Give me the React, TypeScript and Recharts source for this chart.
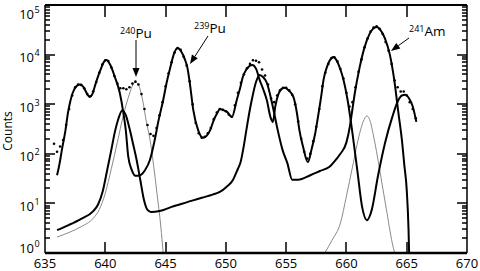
import { ComposedChart, Line, XAxis, YAxis } from 'recharts';

const W = 480;
const H = 271;
// plot box edges in px
const PL = 45;
const PR = 467;
const PT = 5;
const PB = 253;
const FONT = '"Open Sans", "DejaVu Sans", sans-serif';

const xTicks = [635, 640, 645, 650, 655, 660, 665, 670];
const xInnerTicks = [640, 645, 650, 655, 660, 665];
const decades = [1, 10, 100, 1000, 10000, 100000];
const exponents = ['0', '1', '2', '3', '4', '5'];
const minorSteps = [2, 3, 4, 5, 6, 7, 8, 9];

// 239Pu component (thick)
const pu239: [number, number][] = [
  [636.0, 37], [636.2, 62], [636.4, 120], [636.7, 300], [636.9, 660], [637.1, 1150], [637.3, 1700],
  [637.6, 2300], [637.9, 2500], [638.2, 2200], [638.5, 1600], [638.7, 1400], [638.9, 1550],
  [639.2, 2600], [639.6, 4900], [639.9, 7200], [640.1, 7800], [640.4, 6300], [640.8, 3500],
  [641.2, 1700], [641.5, 670], [641.7, 300], [641.9, 90], [642.2, 47], [642.5, 36], [642.9, 37],
  [643.3, 47], [643.7, 75], [644.1, 190], [644.4, 450], [644.8, 1200], [645.1, 2800], [645.4, 5600],
  [645.7, 10500], [646.0, 13600], [646.3, 11500], [646.6, 8000], [646.8, 5600], [647.0, 2800],
  [647.3, 760], [647.7, 300], [648.1, 210], [648.4, 230], [648.7, 300], [649.0, 480], [649.3, 670],
  [649.5, 800], [649.8, 760], [650.1, 700], [650.5, 550], [650.9, 1200], [651.2, 2200], [651.4, 3500],
  [651.7, 5000], [652.0, 6000], [652.2, 6200], [652.5, 5200], [652.8, 3100], [653.1, 2000],
  [653.4, 1200], [653.7, 550], [653.9, 440], [654.1, 900], [654.4, 1700], [654.7, 2100], [654.9, 2150],
  [655.2, 1900], [655.6, 1400], [655.9, 650], [656.1, 300], [656.4, 140], [656.8, 68], [657.1, 120],
  [657.4, 250], [657.6, 480], [657.9, 1400], [658.1, 3100], [658.4, 5800], [658.7, 8200], [658.9, 8900],
  [659.2, 7500], [659.5, 5000], [659.7, 3500], [660.1, 1200], [660.5, 260], [660.9, 47], [661.3, 8.5],
  [661.7, 4.6], [662.1, 7.4], [662.6, 34], [663.2, 165], [663.8, 550], [664.3, 1200], [664.6, 1500],
  [664.9, 1550], [665.2, 1300], [665.5, 900], [665.8, 440],
];

// 241Am component (thick)
const am241: [number, number][] = [
  [636.0, 2.9], [637.0, 3.7], [638.0, 4.9], [639.0, 7.0], [639.4, 9.5], [639.8, 18], [640.1, 40],
  [640.5, 120], [640.8, 280], [641.1, 520], [641.4, 750], [641.7, 600], [642.0, 330], [642.3, 160],
  [642.6, 75], [642.9, 30], [643.2, 12], [643.5, 7.4], [643.8, 6.7], [644.5, 7.0], [645.5, 8.5],
  [646.8, 10.6], [648.0, 13], [648.9, 15], [649.5, 17], [650.0, 21], [650.6, 30], [651.0, 50],
  [651.2, 65], [651.5, 150], [651.7, 300], [652.0, 800], [652.2, 1400], [652.5, 2800], [652.8, 3900],
  [653.1, 3500], [653.4, 2700], [653.9, 880], [654.3, 300], [654.7, 120], [655.1, 65], [655.5, 30],
  [656.0, 30], [657.0, 37], [657.8, 45], [658.6, 55], [659.2, 80], [659.5, 100], [660.0, 170],
  [660.3, 375], [660.5, 800], [660.7, 1700], [661.1, 5600], [661.5, 14000], [661.9, 25600],
  [662.2, 33000], [662.5, 36000], [662.8, 32000], [663.2, 21000], [663.6, 10000], [664.0, 2700],
  [664.3, 700], [664.6, 190], [664.8, 60], [665.0, 19], [665.15, 3], [665.2, 1],
];

// 240Pu component (grey)
const pu240: [number, number][] = [
  [636.0, 2.1], [637.0, 2.6], [638.0, 3.4], [639.0, 5.0], [639.5, 7.5], [640.0, 16], [640.5, 50],
  [641.0, 170], [641.5, 600], [642.0, 1600], [642.3, 2500], [642.5, 2800], [642.8, 2300],
  [643.1, 1200], [643.4, 450], [643.7, 200], [644.0, 60], [644.3, 15], [644.6, 3.5], [644.8, 1],
];

// 661.7 keV component (grey)
const line662: [number, number][] = [
  [658.2, 1], [658.8, 1.8], [659.5, 4], [660.0, 14], [660.5, 54], [661.1, 260], [661.4, 450],
  [661.7, 580], [662.0, 430], [662.2, 260], [662.5, 110], [662.8, 41], [663.3, 8], [663.8, 1.6],
  [664.0, 1],
];

// measured counts (dots)
const measured: [number, number][] = [
  [635.75, 160], [636.0, 110], [636.25, 140], [636.5, 190], [636.75, 380], [637.0, 800],
  [637.25, 1500], [637.5, 2200], [637.75, 2500], [638.0, 2450], [638.25, 2100], [638.5, 1600],
  [638.75, 1450], [639.0, 1800], [639.25, 2800], [639.5, 4300], [639.75, 6300], [640.0, 7700],
  [640.25, 7400], [640.5, 5500], [640.75, 3700], [641.0, 2600], [641.25, 2100], [641.5, 2100],
  [641.75, 2000], [642.0, 2200], [642.25, 2600], [642.5, 2850], [642.75, 2500], [643.0, 1600],
  [643.25, 800], [643.5, 380], [643.75, 250], [644.0, 230], [644.25, 330], [644.5, 600],
  [644.75, 1100], [645.0, 2300], [645.25, 4200], [645.5, 7000], [645.75, 11000], [646.0, 13500],
  [646.25, 12500], [646.5, 9000], [646.75, 6000], [647.0, 2900], [647.25, 1000], [647.5, 420],
  [647.75, 260], [648.0, 210], [648.25, 220], [648.5, 260], [648.75, 330], [649.0, 500],
  [649.25, 680], [649.5, 800], [649.75, 770], [650.0, 720], [650.25, 620], [650.5, 560],
  [650.75, 950], [651.0, 1700], [651.25, 2700], [651.5, 4000], [651.75, 5300], [652.0, 6500],
  [652.25, 7700], [652.5, 7500], [652.75, 7000], [653.0, 5000], [653.25, 3800], [653.5, 2500],
  [653.75, 1300], [654.0, 1100], [654.25, 1500], [654.5, 1900], [654.75, 2150], [655.0, 2150],
  [655.25, 1900], [655.5, 1550], [655.75, 1000], [656.0, 450], [656.25, 200], [656.5, 110],
  [656.75, 80], [657.0, 100], [657.25, 180], [657.5, 350], [657.75, 800], [658.0, 2300],
  [658.25, 4300], [658.5, 6500], [658.75, 8400], [659.0, 8800], [659.25, 7300], [659.5, 5100],
  [659.75, 3300], [660.0, 1700], [660.25, 900], [660.5, 1100], [660.75, 2200], [661.0, 4500],
  [661.25, 8000], [661.5, 14000], [661.75, 21000], [662.0, 29000], [662.25, 35000], [662.5, 37000],
  [662.75, 33000], [663.0, 26000], [663.25, 18000], [663.5, 12000], [663.75, 6500], [664.0, 3000],
  [664.25, 2200], [664.5, 1800], [664.75, 1800], [665.0, 1500], [665.25, 1100], [665.5, 800],
  [665.75, 520],
];

const minorTicks = decades.slice(0, -1).flatMap(d => minorSteps.map(k => k * d));
const pts = (arr: [number, number][]) => arr.map(([x, y]) => ({ x, y }));

// frame tick positions (same linear / log mapping as the plot box)
const xPix = (v: number) => Math.round(PL + ((v - 635) / 35) * (PR - PL));
const yPix = (v: number) => Math.round(PB - (Math.log10(v) / 5) * (PB - PT));

function XTick({ x, payload }: any) {
  return (
    <text x={x} y={268} textAnchor="middle" fontSize={13} fontFamily={FONT} fill="#000">{payload.value}</text>
  );
}

function YTick({ y, payload }: any) {
  const i = decades.indexOf(payload.value);
  if (i < 0) return null;
  let base = y + 7.5;
  if (i === 5) base = 19;
  if (i === 0) base = 253;
  return (
    <text y={base} fontFamily={FONT} fill="#000">
      <tspan x={34} textAnchor="end" fontSize={13}>10</tspan>
      <tspan x={34.5} dy={-6} fontSize={9}>{exponents[i]}</tspan>
    </text>
  );
}

function Arrow({ x1, y1, x2, y2 }: { x1: number; y1: number; x2: number; y2: number }) {
  const dx = x2 - x1;
  const dy = y2 - y1;
  const l = Math.hypot(dx, dy);
  const ux = dx / l, uy = dy / l;
  const hl = 9, hw = 3.5;
  const bx = x2 - ux * hl, by = y2 - uy * hl;
  return (
    <g>
      <line x1={x1} y1={y1} x2={bx} y2={by} stroke="#000" strokeWidth={1} />
      <polygon points={`${x2},${y2} ${bx - uy * hw},${by + ux * hw} ${bx + uy * hw},${by - ux * hw}`} fill="#000" />
    </g>
  );
}

function Label({ x, y, mass, el }: { x: number; y: number; mass: string; el: string }) {
  return (
    <text x={x} y={y} fontFamily={FONT} fill="#000">
      <tspan fontSize={9} dy={-4}>{mass}</tspan>
      <tspan fontSize={13.5} dy={4}>{el}</tspan>
    </text>
  );
}

function Frame() {
  const segs: [number, number, number, number][] = [];
  xInnerTicks.forEach(v => {
    segs.push([xPix(v), PB, xPix(v), PB - 11]);
    segs.push([xPix(v), PT, xPix(v), PT + 12]);
  });
  decades.forEach(v => {
    segs.push([PL, yPix(v), PL + 10, yPix(v)]);
    segs.push([PR - 10, yPix(v), PR, yPix(v)]);
  });
  minorTicks.forEach(v => {
    segs.push([PL, yPix(v), PL + 5, yPix(v)]);
    segs.push([PR - 5, yPix(v), PR, yPix(v)]);
  });
  const d = segs.map(([a, b, c, e]) => `M${a},${b}L${c},${e}`).join('');
  return (
    <g>
      <path d={d} stroke="#000" strokeWidth={1.5} fill="none" />
      <line x1={PL} x2={PR} y1={PT} y2={PT} stroke="#000" strokeWidth={2} />
      <line x1={PR} x2={PR} y1={PT} y2={PB} stroke="#000" strokeWidth={1.5} />
    </g>
  );
}

export default function App() {
  return (
    <div style={{ position: 'fixed', left: 0, top: 0, width: W, height: H, background: '#fff' }}>
      <ComposedChart width={W} height={H} margin={{ top: PT, right: W - PR, bottom: 0, left: 0 }}>
        <XAxis
          dataKey="x" type="number" domain={[635, 670]} ticks={xTicks} interval={0}
          allowDataOverflow height={H - PB} tickLine={false} tick={<XTick />}
          axisLine={{ stroke: '#000', strokeWidth: 2.5 }}
        />
        <YAxis
          dataKey="y" scale="log" domain={[1, 100000]} ticks={decades} interval={0}
          allowDataOverflow width={PL} tickLine={false} tick={<YTick />}
          axisLine={{ stroke: '#000', strokeWidth: 1.5 }}
        />
        <Line data={pts(pu240)} dataKey="y" type="monotone" stroke="#8a8a8a" strokeWidth={1} dot={false} isAnimationActive={false} />
        <Line data={pts(line662)} dataKey="y" type="monotone" stroke="#8a8a8a" strokeWidth={1} dot={false} isAnimationActive={false} />
        <Line data={pts(am241)} dataKey="y" type="monotone" stroke="#000" strokeWidth={2} dot={false} isAnimationActive={false} />
        <Line data={pts(pu239)} dataKey="y" type="monotone" stroke="#000" strokeWidth={2} dot={false} isAnimationActive={false} />
        <Line
          data={pts(measured)} dataKey="y" stroke="none" strokeWidth={0}
          dot={{ r: 1.3, fill: '#000', stroke: 'none' }} isAnimationActive={false}
        />
      </ComposedChart>
      <svg width={W} height={H} style={{ position: 'absolute', left: 0, top: 0, pointerEvents: 'none' }}>
        <Frame />
        <text
          x={7} y={131} transform="rotate(-90 7 131)" textAnchor="middle" dominantBaseline="central"
          fontSize={12} fontFamily={FONT} fill="#000"
        >
          Counts
        </text>
        <Label x={120} y={38} mass="240" el="Pu" />
        <Arrow x1={136} y1={40} x2={136} y2={77} />
        <Label x={194} y={33} mass="239" el="Pu" />
        <Arrow x1={208} y1={36} x2={190} y2={64} />
        <Label x={409} y={36} mass="241" el="Am" />
        <Arrow x1={409} y1={38} x2={391} y2={51} />
      </svg>
    </div>
  );
}
